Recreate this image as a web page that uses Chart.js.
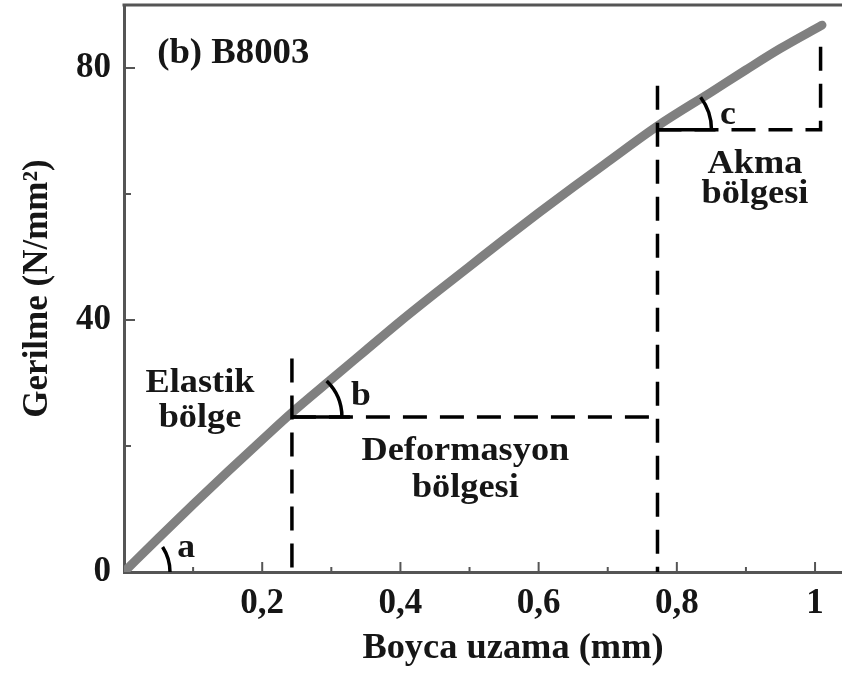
<!DOCTYPE html>
<html>
<head>
<meta charset="utf-8">
<script src="https://cdn.jsdelivr.net/npm/chart.js@4.4.1/dist/chart.umd.min.js"></script>
<style>
  html, body { margin: 0; padding: 0; background: #fff; overflow: hidden; }
  #wrap { width: 842px; height: 673px; position: relative; }
</style>
</head>
<body>
<div id="wrap"><canvas id="c" width="842" height="673"></canvas></div>
<script>
// Stress–strain curve of sample B8003
const strainMM   = [0, 0.05, 0.1, 0.15, 0.2, 0.243, 0.3, 0.35, 0.4, 0.45, 0.5, 0.55, 0.6, 0.65, 0.7, 0.772, 0.85, 0.9, 0.95, 1.01];
const stressNmm2 = [0, 5.4, 10.7, 15.9, 21.0, 25.3, 30.6, 35.2, 39.8, 44.2, 48.5, 52.8, 57.0, 61.1, 65.1, 70.8, 76.2, 79.7, 83.1, 86.8];

// Dashed boundaries between the elastic, deformation and yield regions (null = break)
const guideX = [0.243, 0.243, null, 0.243, 0.772, null, 0.772, 0.772, null, 0.772, 1.008, 1.008];
const guideY = [33.9, 0, null, 24.6, 24.6, null, 77.2, 0, null, 70.2, 70.2, 84.6];

// Angle markers a, b, c at the region corners
const angleVertexX = [0, 0.243, 0.772];
const angleVertexY = [0, 24.6, 70.2];
const angleNames   = ['a', 'b', 'c'];
const angleLabelX  = [0.090, 0.343, 0.874];
const angleLabelY  = [2.4, 26.5, 71.1];

// Region names
const regionLines  = [['Elastik', 'bölge'], ['Deformasyon', 'bölgesi'], ['Akma', 'bölgesi']];
const regionX      = [0.110, 0.494, 0.913];
const regionY      = [[28.5, 23.0], [17.75, 11.9], [63.4, 58.6]];

const sampleTitle  = '(b) B8003';
const xAxisTitle   = 'Boyca uzama (mm)';
const yAxisTitle   = 'Gerilme (N/mm²)';

// Axis ticks
const xMajorTicks = [0.2, 0.4, 0.6, 0.8, 1];
const xTickLabels = ['0,2', '0,4', '0,6', '0,8', '1'];
const yMajorTicks = [0, 40, 80];
const yTickLabels = ['0', '40', '80'];

const SERIF = '"Liberation Serif", "Times New Roman", serif';
const INK = '#161616';
const AXIS = '#555';

const pts = (xs, ys) => xs.map((v, i) => (v === null ? { x: null, y: null } : { x: v, y: ys[i] }));
const near = (a, b) => Math.abs(a - b) < 1e-6;

// text drawn slightly widened, like the bold serif lettering of the figure
function wideText(ctx, s, px, py, align, stretch) {
  const w = ctx.measureText(s).width * stretch;
  let left = px;
  if (align === 'center') left = px - w / 2;
  ctx.save();
  ctx.translate(left, py);
  ctx.scale(stretch, 1);
  ctx.textAlign = 'left';
  ctx.fillText(s, 0, 0);
  ctx.restore();
}

const decorations = {
  id: 'decorations',
  afterDatasetsDraw(chart) {
    const { ctx, chartArea: area, scales: { x, y } } = chart;
    ctx.save();

    // top edge of the frame
    ctx.strokeStyle = AXIS;
    ctx.lineWidth = 3;
    ctx.beginPath();
    ctx.moveTo(area.left - 1.5, area.top);
    ctx.lineTo(area.right, area.top);
    ctx.stroke();

    // inward tick marks
    ctx.lineWidth = 2;
    x.ticks.forEach(t => {
      if (near(t.value, 0)) return;
      const px = x.getPixelForValue(t.value);
      const len = xMajorTicks.some(m => near(m, t.value)) ? 10 : 5;
      ctx.beginPath();
      ctx.moveTo(px, area.bottom);
      ctx.lineTo(px, area.bottom - len);
      ctx.stroke();
    });
    y.ticks.forEach(t => {
      if (near(t.value, 0)) return;
      const py = y.getPixelForValue(t.value);
      const len = yMajorTicks.some(m => near(m, t.value)) ? 11 : 7;
      ctx.beginPath();
      ctx.moveTo(area.left, py);
      ctx.lineTo(area.left + len, py);
      ctx.stroke();
    });

    // angle arcs
    const arcRadius = [46, 50, 54];
    const arcSweep  = [33, 46, 37];
    const legLength = [0, 58, 58];
    ctx.strokeStyle = '#000';
    ctx.lineWidth = 3.5;
    angleVertexX.forEach((vx, i) => {
      const cx = x.getPixelForValue(vx);
      const cy = y.getPixelForValue(angleVertexY[i]);
      if (legLength[i]) {
        ctx.beginPath();
        ctx.moveTo(cx, cy);
        ctx.lineTo(cx + legLength[i], cy);
        ctx.stroke();
      }
      ctx.beginPath();
      ctx.arc(cx, cy, arcRadius[i], 0, -arcSweep[i] * Math.PI / 180, true);
      ctx.stroke();
    });

    ctx.fillStyle = INK;
    ctx.textBaseline = 'alphabetic';

    ctx.font = 'bold 34px ' + SERIF;
    angleNames.forEach((n, i) => {
      wideText(ctx, n, x.getPixelForValue(angleLabelX[i]), y.getPixelForValue(angleLabelY[i]), 'center', 1.05);
    });

    ctx.font = 'bold 33px ' + SERIF;
    regionLines.forEach((lines, i) => {
      lines.forEach((s, j) => {
        wideText(ctx, s, x.getPixelForValue(regionX[i]), y.getPixelForValue(regionY[i][j]), 'center', 1.1);
      });
    });

    ctx.font = 'bold 35px ' + SERIF;
    wideText(ctx, sampleTitle, x.getPixelForValue(0.048), y.getPixelForValue(80.8), 'left', 1.05);

    // axis title under the x axis
    wideText(ctx, xAxisTitle, 513, 658, 'center', 1.04);

    ctx.restore();
  }
};

new Chart(document.getElementById('c'), {
  type: 'line',
  data: {
    datasets: [
      {
        data: pts(guideX, guideY),
        borderColor: '#000',
        borderWidth: 3.5,
        borderDash: [24, 13],
        pointRadius: 0,
        spanGaps: false,
        tension: 0
      },
      {
        data: pts(strainMM, stressNmm2),
        borderColor: '#808080',
        borderWidth: 9,
        borderCapStyle: 'round',
        borderJoinStyle: 'round',
        pointRadius: 0,
        cubicInterpolationMode: 'monotone'
      }
    ]
  },
  options: {
    responsive: false,
    animation: false,
    layout: { padding: { top: 5, right: 0, left: 0, bottom: 0 } },
    plugins: { legend: { display: false }, tooltip: { enabled: false } },
    scales: {
      x: {
        type: 'linear',
        min: 0,
        max: 1.039,
        grid: { display: false, drawTicks: false },
        border: { display: true, color: AXIS, width: 3 },
        ticks: {
          stepSize: 0.1,
          includeBounds: false,
          autoSkip: false,
          maxRotation: 0,
          padding: 11,
          color: INK,
          font: { family: SERIF, size: 35, weight: 'bold' },
          callback: v => {
            const i = xMajorTicks.findIndex(m => near(m, v));
            return i >= 0 ? xTickLabels[i] : '';
          }
        },
        title: { display: false },
        afterFit: s => { s.height = 101; s.paddingLeft = 0; s.paddingRight = 0; }
      },
      y: {
        type: 'linear',
        min: 0,
        max: 90,
        grid: { display: false, drawTicks: false },
        border: { display: true, color: AXIS, width: 3 },
        ticks: {
          stepSize: 20,
          includeBounds: false,
          autoSkip: false,
          padding: 13,
          color: INK,
          font: { family: SERIF, size: 35, weight: 'bold' },
          callback: v => {
            const i = yMajorTicks.findIndex(m => near(m, v));
            return i >= 0 ? yTickLabels[i] : '';
          }
        },
        title: {
          display: true,
          text: yAxisTitle,
          color: INK,
          font: { family: SERIF, size: 35, weight: 'bold' },
          padding: { top: 17, bottom: 0 }
        },
        afterFit: s => { s.width = 124; s.paddingTop = 0; s.paddingBottom = 0; }
      }
    }
  },
  plugins: [decorations]
});
</script>
</body>
</html>
